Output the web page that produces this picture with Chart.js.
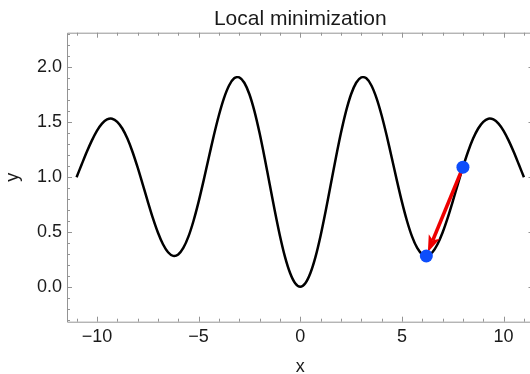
<!DOCTYPE html>
<html>
<head>
<meta charset="utf-8">
<script src="https://cdn.jsdelivr.net/npm/chart.js@4.4.1/dist/chart.umd.min.js"></script>
<style>
  html, body { margin: 0; padding: 0; background: #ffffff; overflow: hidden; }
</style>
</head>
<body>
<canvas id="chart" width="540" height="380" style="width:540px;height:380px;display:block"></canvas>
<script>
// curve samples
const curveX = [
  -11, -10.75, -10.5, -10.25, -10, -9.75, -9.5, -9.25, -9, -8.75, -8.5, -8.25,
  -8, -7.75, -7.5, -7.25, -7, -6.75, -6.5, -6.25, -6, -5.75, -5.5, -5.25,
  -5, -4.75, -4.5, -4.25, -4, -3.75, -3.5, -3.25, -3, -2.75, -2.5, -2.25,
  -2, -1.75, -1.5, -1.25, -1, -0.75, -0.5, -0.25, 0, 0.25, 0.5, 0.75,
  1, 1.25, 1.5, 1.75, 2, 2.25, 2.5, 2.75, 3, 3.25, 3.5, 3.75,
  4, 4.25, 4.5, 4.75, 5, 5.25, 5.5, 5.75, 6, 6.25, 6.5, 6.75,
  7, 7.25, 7.5, 7.75, 8, 8.25, 8.5, 8.75, 9, 9.25, 9.5, 9.75,
  10, 10.25, 10.5, 10.75, 11
];
const curveY = [
  0.998, 1.113, 1.227, 1.331, 1.420, 1.486, 1.524, 1.531, 1.503, 1.442, 1.350, 1.230,
  1.089, 0.935, 0.778, 0.627, 0.494, 0.387, 0.314, 0.281, 0.294, 0.353, 0.456, 0.599,
  0.773, 0.969, 1.175, 1.378, 1.563, 1.719, 1.834, 1.899, 1.908, 1.859, 1.754, 1.598,
  1.400, 1.173, 0.931, 0.690, 0.465, 0.272, 0.125, 0.032, 0.000, 0.032, 0.125, 0.272,
  0.465, 0.690, 0.931, 1.173, 1.400, 1.598, 1.754, 1.859, 1.908, 1.899, 1.834, 1.719,
  1.563, 1.378, 1.175, 0.969, 0.773, 0.599, 0.456, 0.353, 0.294, 0.281, 0.314, 0.387,
  0.494, 0.627, 0.778, 0.935, 1.089, 1.230, 1.350, 1.442, 1.503, 1.531, 1.524, 1.486,
  1.420, 1.331, 1.227, 1.113, 0.998
];

// start point and the local minimum found
const stepX = [8.0, 6.2];
const stepY = [1.089, 0.28];

const FONT = "'Liberation Sans', Arial, sans-serif";
const FRAME_COLOR = '#949494';
const TEXT_COLOR = '#1a1a1a';
const POINT_BLUE = '#0d4dfb';
const ARROW_RED = '#ee0000';

const curveData = curveX.map((x, i) => ({ x: x, y: curveY[i] }));
const stepData = stepX.map((x, i) => ({ x: x, y: stepY[i] }));

function minusSign(v) {
  return v < 0 ? '\u2212' + Math.abs(v) : String(v);
}

// red arrow between the two points, drawn right after the curve
const arrowPlugin = {
  id: 'arrowPlugin',
  afterDatasetDraw(chart, args) {
    if (args.index !== 0) return;
    const { ctx, scales: { x, y } } = chart;
    const x0 = x.getPixelForValue(stepX[0]), y0 = y.getPixelForValue(stepY[0]);
    const x1 = x.getPixelForValue(stepX[1]), y1 = y.getPixelForValue(stepY[1]);
    const dx = x1 - x0, dy = y1 - y0;
    const len = Math.hypot(dx, dy);
    const ux = dx / len, uy = dy / len;
    const tipX = x1 - ux * 4, tipY = y1 - uy * 4;
    const headLen = 17, headHalf = 6, notch = 4;
    const baseX = tipX - ux * headLen, baseY = tipY - uy * headLen;
    const nX = tipX - ux * (headLen - notch), nY = tipY - uy * (headLen - notch);

    ctx.save();
    ctx.strokeStyle = ARROW_RED;
    ctx.fillStyle = ARROW_RED;
    ctx.lineWidth = 3.5;
    ctx.beginPath();
    ctx.moveTo(x0, y0);
    ctx.lineTo(nX, nY);
    ctx.stroke();
    ctx.beginPath();
    ctx.moveTo(tipX, tipY);
    ctx.lineTo(baseX - uy * headHalf, baseY + ux * headHalf);
    ctx.lineTo(nX, nY);
    ctx.lineTo(baseX + uy * headHalf, baseY - ux * headHalf);
    ctx.closePath();
    ctx.fill();
    ctx.restore();
  }
};

// Mathematica style frame with inward ticks
const framePlugin = {
  id: 'framePlugin',
  afterDraw(chart) {
    const { ctx, chartArea: a, scales: { x, y } } = chart;
    ctx.save();
    ctx.strokeStyle = FRAME_COLOR;
    ctx.lineWidth = 1;
    ctx.beginPath();
    ctx.rect(a.left + 0.5, a.top + 0.5, a.right - a.left, a.bottom - a.top);
    x.ticks.forEach(t => {
      const px = Math.round(x.getPixelForValue(t.value)) + 0.5;
      const tl = t.label ? 5 : 3;
      ctx.moveTo(px, a.bottom);
      ctx.lineTo(px, a.bottom - tl);
      ctx.moveTo(px, a.top);
      ctx.lineTo(px, a.top + tl);
    });
    y.ticks.forEach(t => {
      const py = Math.round(y.getPixelForValue(t.value)) + 0.5;
      const tl = t.label ? 5 : 3;
      ctx.moveTo(a.left, py);
      ctx.lineTo(a.left + tl, py);
      ctx.moveTo(a.right, py);
      ctx.lineTo(a.right - tl, py);
    });
    ctx.stroke();
    ctx.restore();
  }
};

new Chart(document.getElementById('chart'), {
  type: 'line',
  data: {
    datasets: [
      {
        label: 'f',
        data: curveData,
        borderColor: '#000000',
        backgroundColor: 'transparent',
        borderWidth: 2.5,
        pointRadius: 0,
        tension: 0.3,
        fill: false,
        order: 2
      },
      {
        label: 'steps',
        data: stepData,
        showLine: false,
        pointRadius: 6.5,
        pointBorderWidth: 0,
        pointBackgroundColor: POINT_BLUE,
        pointBorderColor: POINT_BLUE,
        order: 0
      }
    ]
  },
  options: {
    responsive: false,
    animation: false,
    devicePixelRatio: 1,
    layout: { padding: { left: 0, right: 5, top: 0, bottom: 0 } },
    plugins: {
      legend: { display: false },
      tooltip: { enabled: false },
      title: {
        display: true,
        text: 'Local minimization',
        fullSize: false,
        color: TEXT_COLOR,
        font: { family: FONT, size: 21, weight: 'normal' },
        padding: { top: 7, bottom: 0.5 }
      }
    },
    scales: {
      x: {
        type: 'linear',
        min: -11.47,
        max: 11.47,
        grid: { display: false, drawTicks: false },
        border: { display: false },
        ticks: {
          stepSize: 1,
          includeBounds: false,
          autoSkip: false,
          maxRotation: 0,
          padding: 5,
          color: TEXT_COLOR,
          font: { family: FONT, size: 18 },
          callback: v => (v % 5 === 0 ? minusSign(v) : '')
        },
        title: {
          display: true,
          text: 'x',
          color: TEXT_COLOR,
          font: { family: FONT, size: 18 },
          padding: { top: 0, bottom: 2 }
        },
        afterFit: scale => { scale.height = 58.3; }
      },
      y: {
        type: 'linear',
        min: -0.319,
        max: 2.315,
        grid: { display: false, drawTicks: false },
        border: { display: false },
        ticks: {
          stepSize: 0.1,
          includeBounds: false,
          autoSkip: false,
          padding: 5,
          color: TEXT_COLOR,
          font: { family: FONT, size: 18 },
          callback: v => (Math.abs(v * 2 - Math.round(v * 2)) < 1e-6 ? v.toFixed(1) : '')
        },
        title: {
          display: true,
          text: 'y',
          color: TEXT_COLOR,
          font: { family: FONT, size: 18 },
          padding: { top: 2, bottom: 0 }
        },
        afterFit: scale => { scale.width = 67; }
      }
    }
  },
  plugins: [arrowPlugin, framePlugin]
});
</script>
</body>
</html>
